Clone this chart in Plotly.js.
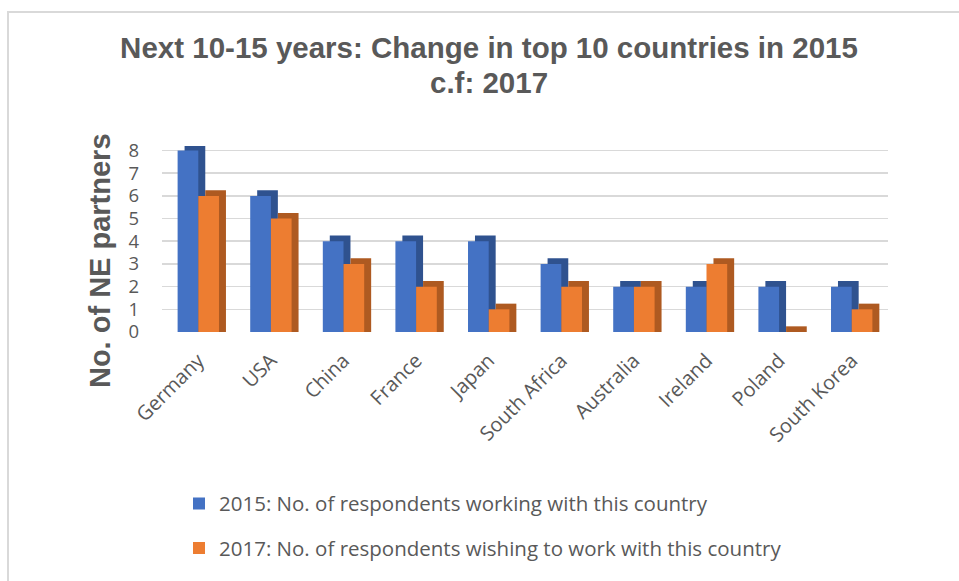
<!DOCTYPE html>
<html>
<head>
<meta charset="utf-8">
<script src="https://cdn.plot.ly/plotly-3.0.1.min.js"></script>
<style>
html,body{margin:0;padding:0;background:#fff;}
#wrap{position:relative;width:959px;height:581px;}
#chart{position:absolute;left:0;top:0;width:959px;height:581px;}
#frame{position:absolute;left:7px;top:11px;width:960px;height:580px;border-left:2px solid #D9D9D9;border-top:2px solid #D9D9D9;pointer-events:none;}
</style>
</head>
<body>
<div id="wrap"><div id="chart"></div><div id="frame"></div></div>
<script>
const countries = ["Germany","USA","China","France","Japan","South Africa","Australia","Ireland","Poland","South Korea"];
const values2015 = [8,6,4,4,4,3,2,2,2,2];
const values2017 = [6,5,3,2,1,2,2,3,0,1];
const name2015 = "2015: No. of respondents working with this country";
const name2017 = "2017: No. of respondents wishing to work with this country";
const titleLine1 = "Next 10-15 years: Change in top 10 countries in 2015";
const titleLine2 = "c.f: 2017";
const yTicks = [0,1,2,3,4,5,6,7,8];

const depthX = 0.096, depthY = 0.25, barW = 0.285;
const grey = "#595959";
const titleFont = {family:"Liberation Sans, Arial, sans-serif", size:29.5, color:grey, weight:"bold"};

const traces = [
  {type:"bar", x:countries, y:values2015.map(v=>v+depthY), base:0, offset:-barW+depthX, width:barW,
   marker:{color:"#2F528F"}, showlegend:false, hoverinfo:"skip"},
  {type:"bar", x:countries, y:values2015, offset:-barW, width:barW, name:name2015, legendgroup:"a",
   marker:{color:"#4472C4"}},
  {type:"bar", x:countries, y:values2017.map(v=>v+depthY), base:0, offset:depthX, width:barW,
   marker:{color:"#AE5A21"}, showlegend:false, hoverinfo:"skip"},
  {type:"bar", x:countries, y:values2017, offset:0, width:barW, name:name2017, legendgroup:"b",
   marker:{color:"#ED7D31"}}
];

const layout = {
  width:959, height:581,
  margin:{l:162, r:71, t:146, b:241},
  paper_bgcolor:"#fff", plot_bgcolor:"#fff",
  barmode:"overlay",
  showlegend:true,
  title:{text:titleLine1, font:titleFont,
         x:489/959, xanchor:"center", y:1-48/581, yanchor:"middle"},
  xaxis:{type:"category", tickangle:-45, tickfont:{family:"Open Sans, sans-serif", size:20, color:grey},
         showgrid:false, zeroline:false, showline:false, ticks:"", range:[-0.5,9.5],
         ticklabelstandoff:12},
  yaxis:{range:[0,8.2], tickvals:yTicks, ticktext:yTicks.map(String),
         tickfont:{family:"Open Sans, sans-serif", size:18.5, color:grey},
         showgrid:true, gridcolor:"#D9D9D9", gridwidth:1.6, zeroline:false, showline:false,
         ticklabelstandoff:22},
  legend:{orientation:"v", x:(179-162)/726, xanchor:"left", y:-0.815, yanchor:"top",
          font:{family:"Open Sans, sans-serif", size:20.5, color:grey}, tracegroupgap:15,
          itemwidth:30},
  annotations:[
    {text:titleLine2, xref:"paper", yref:"paper", x:(489-162)/726, y:(340-80)/194,
     xanchor:"center", yanchor:"middle", showarrow:false, font:titleFont},
    {text:"No. of NE partners", xref:"paper", yref:"paper",
     x:(100-162)/726, y:(340-266)/194, xanchor:"center", yanchor:"middle",
     textangle:-90, showarrow:false,
     font:{family:"Liberation Sans, Arial, sans-serif", size:29, color:grey, weight:"bold"}}]
};

Plotly.newPlot("chart", traces, layout, {displayModeBar:false, staticPlot:true});
</script>
</body>
</html>
